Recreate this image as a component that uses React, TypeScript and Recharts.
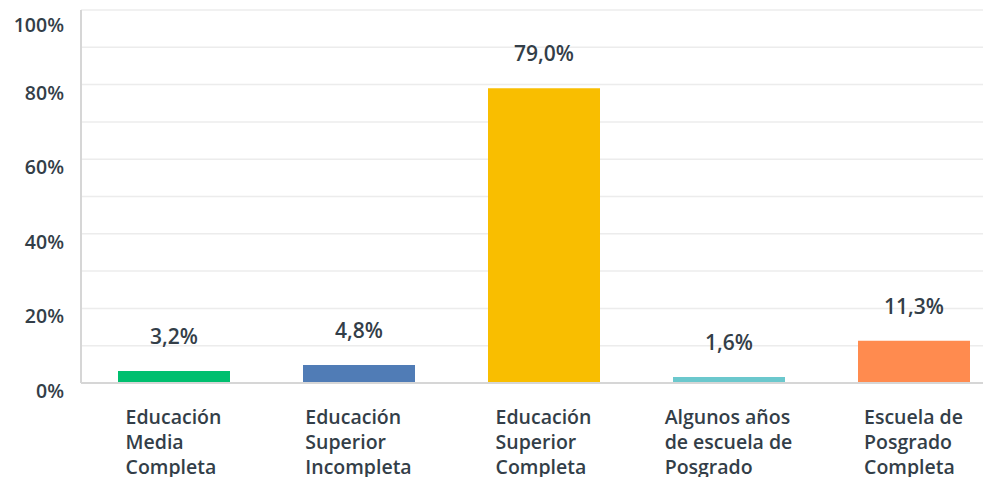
import { BarChart, Bar, XAxis, YAxis, CartesianGrid, Cell, LabelList } from 'recharts'

const categories = [
  'Educación Media Completa',
  'Educación Superior Incompleta',
  'Educación Superior Completa',
  'Algunos años de escuela de Posgrado',
  'Escuela de Posgrado Completa',
]
const categoryLines = [
  ['Educación', 'Media', 'Completa'],
  ['Educación', 'Superior', 'Incompleta'],
  ['Educación', 'Superior', 'Completa'],
  ['Algunos años', 'de escuela de', 'Posgrado'],
  ['Escuela de', 'Posgrado', 'Completa'],
]
const values = [3.2, 4.8, 79.0, 1.6, 11.3]
const colors = ['#00bf6f', '#507cb6', '#f9be00', '#6bc8cd', '#ff8b4f']
const yTicks = [0, 10, 20, 30, 40, 50, 60, 70, 80, 90, 100]

const data = categories.map((name, i) => ({ name, value: values[i] }))

const FONT = '"Open Sans", sans-serif'
const TEXT = '#333e48'

let ctx: CanvasRenderingContext2D | null = null
function measure(s: string) {
  if (!ctx) ctx = document.createElement('canvas').getContext('2d')
  if (!ctx) return s.length * 10
  ctx.font = `600 19.5px ${FONT}`
  return ctx.measureText(s).width
}

function CategoryTick({ x, y, payload, index }: any) {
  const lines = categoryLines[index ?? payload.index] || [payload.value]
  const w = Math.max(...lines.map(measure))
  const left = x - w / 2
  return (
    <g>
      {lines.map((l: string, i: number) => (
        <text key={i} x={left} y={y + 33 + i * 25} textAnchor="start" fill={TEXT}
          fontSize={19.5} fontWeight={600} fontFamily={FONT}>
          {l}
        </text>
      ))}
    </g>
  )
}

function PercentTick({ x, y, payload }: any) {
  if (payload.value % 20 !== 0) return null
  return (
    <text x={x - 9} y={y + 15} textAnchor="end" fill={TEXT} fontSize={19.5}
      fontWeight={600} fontFamily={FONT}>
      {payload.value}%
    </text>
  )
}

export default function App() {
  return (
    <div style={{ width: 983, height: 469, overflow: 'hidden' }}>
      <BarChart width={998} height={469} data={data}
        margin={{ top: 2, right: 0, bottom: 0, left: 0 }}>
        <CartesianGrid vertical={false} stroke="#ececec" strokeWidth={1.5} />
        <XAxis dataKey="name" interval={0} height={94} tickLine={false}
          axisLine={{ stroke: '#d6d6d6', strokeWidth: 2 }} tick={<CategoryTick />} />
        <YAxis domain={[0, 100]} ticks={yTicks} width={73} tickLine={false}
          axisLine={{ stroke: '#d6d6d6', strokeWidth: 2 }} tick={<PercentTick />} />
        <Bar dataKey="value" barSize={112} isAnimationActive={false}>
          {data.map((d, i) => (
            <Cell key={d.name} fill={colors[i]} />
          ))}
          <LabelList dataKey="value" position="top" offset={27}
            formatter={(v: any) => `${Number(v).toFixed(1).replace('.', ',')}%`}
            style={{ fill: TEXT, fontSize: 21, fontWeight: 600, fontFamily: FONT }} />
        </Bar>
      </BarChart>
    </div>
  )
}
